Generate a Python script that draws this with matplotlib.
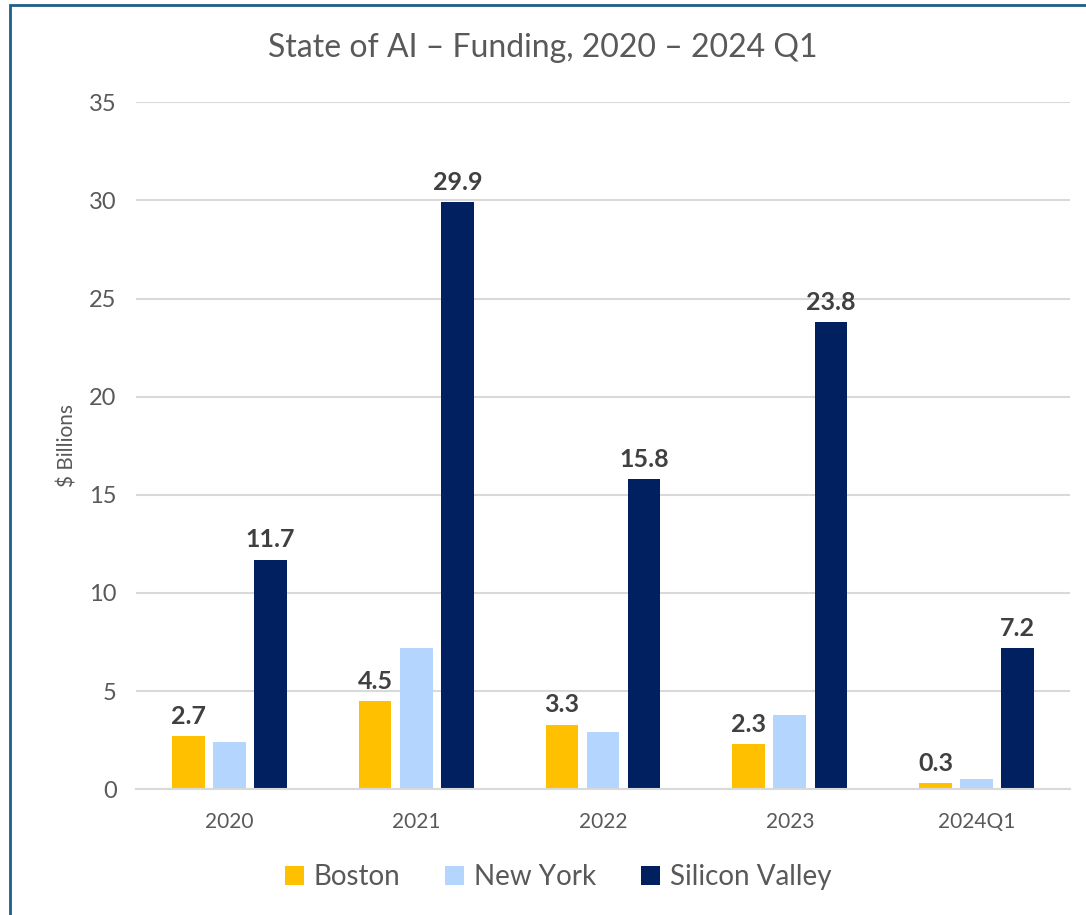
import numpy as np
import matplotlib.pyplot as plt
from matplotlib.patches import Rectangle

# datos
years = ['2020', '2021', '2022', '2023', '2024Q1']
boston = [2.7, 4.5, 3.3, 2.3, 0.3]
new_york = [2.4, 7.2, 2.9, 3.8, 0.5]
silicon_valley = [11.7, 29.9, 15.8, 23.8, 7.2]

plt.rcParams['font.family'] = ['Lato', 'DejaVu Sans']

fig = plt.figure(figsize=(10.86, 9.15), dpi=100)
ax = fig.add_axes([0.1252, 0.1374, 0.8601, 0.7508])

x = np.arange(len(years))
w = 0.175
off = 0.22
b1 = ax.bar(x - off, boston, w, color='#ffc000', label='Boston')
b2 = ax.bar(x, new_york, w, color='#b4d5fe', label='New York')
b3 = ax.bar(x + off, silicon_valley, w, color='#002060', label='Silicon Valley')

# etiquetas solo para Boston y Silicon Valley
for bars in (b1, b3):
    for r in bars:
        h = r.get_height()
        ax.annotate(f'{h:.1f}', (r.get_x() + r.get_width() / 2, h),
                    xytext=(0, 6), textcoords='offset points',
                    ha='center', va='bottom', fontsize=18, fontweight='bold',
                    color='#404040')

ax.set_xlim(-0.5, len(years) - 0.5)
ax.set_ylim(0, 35)
ax.set_yticks(range(0, 36, 5))
ax.set_xticks(x)
ax.set_xticklabels(years)
ax.grid(axis='y', color='#d9d9d9', linewidth=1.5)
ax.set_axisbelow(True)
for s in ['top', 'right', 'left']:
    ax.spines[s].set_visible(False)
ax.spines['bottom'].set_color('#d9d9d9')
ax.spines['bottom'].set_linewidth(1.5)
ax.tick_params(axis='y', length=0, pad=14, labelsize=17, labelcolor='#595959')
ax.tick_params(axis='x', length=0, pad=16, labelsize=15, labelcolor='#595959')
ax.set_ylabel('$ Billions', fontsize=15, color='#595959', labelpad=8)

fig.text(0.5, 1 - 48 / 915, 'State of AI \u2013 Funding, 2020 \u2013 2024 Q1',
         ha='center', va='center', fontsize=23, color='#595959')

fig.legend(handles=[b1, b2, b3], loc='center', bbox_to_anchor=(558 / 1086, 1 - 877 / 915),
           ncol=3, frameon=False, fontsize=20, labelcolor='#595959',
           handlelength=0.7, handleheight=0.7, handletextpad=0.35, columnspacing=1.6)

# marco del grafico
fig.patches.append(Rectangle((10 / 1086, -0.1), 1.2, 1 - 5 / 915 + 0.1,
                             transform=fig.transFigure, fill=False,
                             edgecolor='#1f5f8b', linewidth=2))

plt.savefig('out.png', dpi=100)
